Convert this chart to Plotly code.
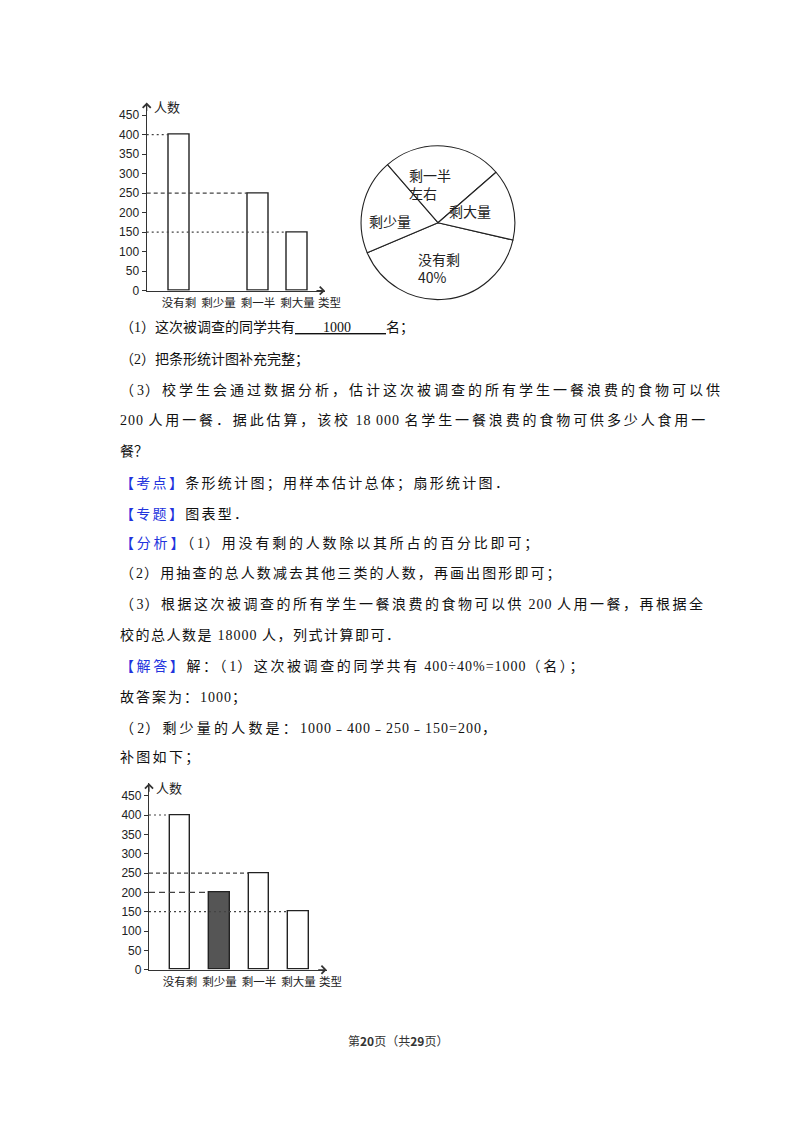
import plotly.graph_objects as go

# ---- data ----
categories = ['没有剩', '剩少量', '剩一半', '剩大量']
counts = [400, 200, 250, 150]            # completed bar chart (answer)
counts_given = [400, None, 250, 150]     # bar chart in the question, 剩少量 missing
y_ticks = [0, 50, 100, 150, 200, 250, 300, 350, 400, 450]
axis_names = ('人数', '类型')

# the page body keeps its default 8px margin, so the figure is a bit smaller
PAD = 8
W, H = 800 - 2 * PAD, 1132 - 2 * PAD
BODY_FONT = 'Liberation Serif, Noto Sans CJK SC'
CJK_FONT = 'Noto Sans CJK SC'
BLUE = '#2233dd'
NB = '\u00a0'
BAR_W = 0.53


def fx(px):
    return (px - PAD) / W


def fy(py):
    py = (py - PAD) * 1.005 + 1
    return 1 - py / H


def note(px, py, text, **kw):
    kw.setdefault('xanchor', 'center')
    kw.setdefault('yanchor', 'middle')
    fig.add_annotation(x=fx(px), y=fy(py), xref='paper', yref='paper',
                       text=text, showarrow=False, **kw)


fig = go.Figure()
positions = list(range(len(categories)))


def bar_panel(n, values, fills, dashes, left, right, top, bottom, xrange):
    xa = 'x' if n == 1 else f'x{n}'
    ya = 'y' if n == 1 else f'y{n}'
    fig.add_trace(go.Bar(
        x=positions, y=values, xaxis=xa, yaxis=ya, width=BAR_W,
        marker=dict(color=fills, line=dict(color='#222', width=1.4)),
        hoverinfo='skip'
    ))
    # guide lines from the y axis to the left edge of each bar
    for i, v in enumerate(values):
        if v is None:
            continue
        fig.add_trace(go.Scatter(
            x=[xrange[0], positions[i] - BAR_W / 2], y=[v, v],
            xaxis=xa, yaxis=ya, mode='lines', hoverinfo='skip',
            line=dict(color='#444', width=1.2, dash=dashes[i])
        ))
    key = '' if n == 1 else str(n)
    fig.update_layout({
        f'xaxis{key}': dict(
            domain=[fx(left), fx(right)], range=xrange, anchor=ya,
            tickvals=positions, ticktext=categories,
            ticks='outside', ticklen=1, tickcolor='rgba(0,0,0,0)',
            showline=True, linecolor='#333', linewidth=1.3,
            showgrid=False, zeroline=False,
            tickfont=dict(family=CJK_FONT, size=11.5, color='#222')
        ),
        f'yaxis{key}': dict(
            domain=[fy(bottom), fy(top)], range=[0, 482], anchor=xa,
            tickvals=y_ticks, ticks='outside', ticklen=4, tickwidth=1.2,
            tickcolor='#333', showline=True, linecolor='#333', linewidth=1.3,
            showgrid=False, zeroline=False,
            tickfont=dict(family='Liberation Sans', size=12, color='#222')
        ),
    })
    # arrows at the axis ends
    fig.add_annotation(x=fx(left), y=fy(top), xref='paper', yref='paper',
                       text='', showarrow=True, ax=0, ay=10, arrowhead=4,
                       arrowsize=1.3, arrowwidth=1.2, arrowcolor='#333')
    fig.add_annotation(x=fx(right), y=fy(bottom), xref='paper', yref='paper',
                       text='', showarrow=True, ax=-10, ay=0, arrowhead=4,
                       arrowsize=1.3, arrowwidth=1.2, arrowcolor='#333')
    note(left + 20, top + 4, axis_names[0],
         font=dict(family=CJK_FONT, size=13, color='#222'))
    note(right + 4, bottom + 11, axis_names[1],
         font=dict(family=CJK_FONT, size=11.5, color='#222'))


dash_styles = ['2px,3px', '6px,4px', '4px,3px', '2px,3px']
bar_panel(1, counts_given, ['white'] * 4, dash_styles,
          146.7, 325, 101.7, 290, [-0.818, 3.696])
fills = ['#555555' if c == '剩少量' else 'white' for c in categories]
bar_panel(2, counts, fills, dash_styles,
          149, 326.7, 783.3, 970, [-0.785, 3.714])

# ---- pie chart ----
fig.add_trace(go.Pie(
    labels=categories, values=counts, sort=False, direction='clockwise',
    rotation=103, textinfo='none', hoverinfo='skip',
    marker=dict(colors=['white'] * 4, line=dict(color='#222', width=1.1)),
    domain=dict(x=[fx(361), fx(515)], y=[fy(299), fy(145)])
))
pie_text = [
    (416, 267, '没有剩<br>40%'),
    (367, 220, '剩少量'),
    (407, 183, '剩一半<br>左右'),
    (447, 210, '剩大量'),
]
for px, py, t in pie_text:
    note(px, py, t, xanchor='left', align='left',
         font=dict(family=CJK_FONT, size=14, color='#222'))


# ---- body text ----
def span(s, ls, color=None):
    style = f'letter-spacing:{ls}px'
    if color:
        style += f';color:{color}'
    return f'<span style="{style}">{s}</span>'


def spaced(text, cjk_ls, latin_ls=1.0, color=None):
    # Chinese glyphs get the wider spacing, digits and Latin stay tighter
    out, run, run_latin = [], '', None
    for ch in text:
        is_latin = ord(ch) < 0x2000 or ch == '﹣'
        if run and is_latin != run_latin:
            out.append(span(run, latin_ls if run_latin else cjk_ls, color))
            run = ''
        run += ch
        run_latin = is_latin
    if run:
        out.append(span(run, latin_ls if run_latin else cjk_ls, color))
    return ''.join(out)


q1 = (spaced('（1）这次被调查的同学共有', 0, 0)
      + '<u>' + NB * 8 + '1000' + NB * 10 + '</u>' + spaced('名；', 0, 0))
question_lines = [
    (327, q1),
    (358.5, spaced('（2）把条形统计图补充完整；', 0, 0)),
    (390, spaced('（3）校学生会通过数据分析，估计这次被调查的所有学生一餐浪费的食物可以供', 3.0)),
    (420, spaced('200 人用一餐．据此估算，该校 18 000 名学生一餐浪费的食物可供多少人食用一', 2.87)),
    (451, spaced('餐？', 0, 0)),
]
for py, html in question_lines:
    note(118, py, html, xanchor='left', align='left',
         font=dict(family=BODY_FONT, size=14, color='#111'))

answer_lines = [
    (483, '【考点】', '条形统计图；用样本估计总体；扇形统计图．', 2.3),
    (514, '【专题】', '图表型．', 2.3),
    (544, '【分析】', '（1）用没有剩的人数除以其所占的百分比即可；', 2.8),
    (574, '', '（2）用抽查的总人数减去其他三类的人数，再画出图形即可；', 2.1),
    (604, '', '（3）根据这次被调查的所有学生一餐浪费的食物可以供 200 人用一餐，再根据全', 2.5),
    (635, '', '校的总人数是 18000 人，列式计算即可．', 1.5),
    (666, '【解答】', '解：（1）这次被调查的同学共有 400÷40%=1000（名）；', 2.6),
    (697, '', '故答案为：1000；', 2.0),
    (728, '', '（2）剩少量的人数是：1000﹣400﹣250﹣150=200，', 3.2),
    (758, '', '补图如下；', 2.3),
]
for py, tag, t, ls in answer_lines:
    html = (spaced(tag, ls, color=BLUE) if tag else '') + spaced(t, ls)
    note(118, py, html, xanchor='left', align='left',
         font=dict(family=BODY_FONT, size=14, color='#111'))

# page footer
note(397.5, 1041, '第<b>20</b>页（共<b>29</b>页）',
     font=dict(family=CJK_FONT, size=12, color='#333'))

fig.update_layout(
    width=W, height=H,
    margin=dict(l=0, r=0, t=0, b=0),
    paper_bgcolor='white', plot_bgcolor='white',
    showlegend=False, bargap=0
)

fig.write_html("out.html")
